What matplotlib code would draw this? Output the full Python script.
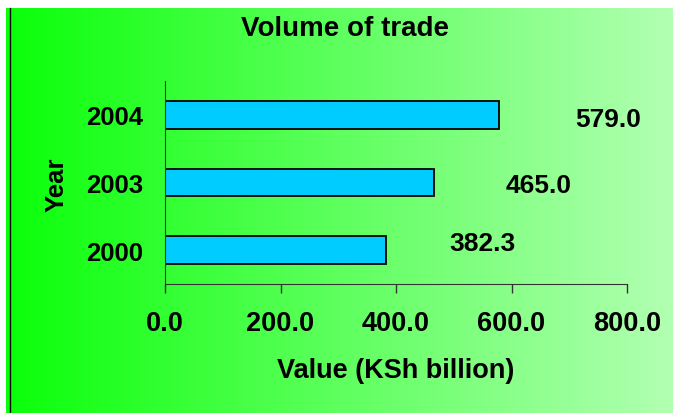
import numpy as np
import matplotlib.pyplot as plt
from matplotlib.lines import Line2D

years = ['2000', '2003', '2004']
values = [382.3, 465.0, 579.0]
value_labels = ['382.3', '465.0', '579.0']
xticks = [0, 200, 400, 600, 800]

# label offsets (pixels) from bar end, as placed in the original
label_offsets = [(64, 7), (72, -3), (76, -4)]

plt.rcParams['font.family'] = ['Liberation Sans', 'DejaVu Sans']
plt.rcParams['font.weight'] = 'bold'

W, H = 673, 414
fig = plt.figure(figsize=(W / 100, H / 100), dpi=100)
fig.patch.set_facecolor('white')

# gradient background of the chart area
bg = fig.add_axes([6 / W, 0, (W - 6) / W, (H - 9) / H])
t = np.linspace(0, 1, 256)
c0 = np.array([10, 255, 10]) / 255
c1 = np.array([178, 255, 178]) / 255
grad = c0[None, :] * (1 - t[:, None]) + c1[None, :] * t[:, None]
bg.imshow(grad[None, :, :], aspect='auto', extent=[0, 1, 0, 1])
bg.set_axis_off()
fig.add_artist(Line2D([9.5 / W, 9.5 / W], [0, (H - 9) / H], color='black', lw=1.0,
                      transform=fig.transFigure))

ax = fig.add_axes([165 / W, (H - 285) / H, 462 / W, 203 / H])
ax.patch.set_alpha(0)

y = np.arange(len(years))
ax.barh(y, values, height=0.41, color='#00CCFF', edgecolor='black', linewidth=1.3)

ax.set_xlim(0, 800)
ax.set_ylim(-0.5, len(years) - 0.5)
ax.set_xticks(xticks)
ax.set_xticklabels([f'{v:.1f}' for v in xticks], fontsize=19.5, fontweight='bold')
ax.set_yticks(y)
ax.set_yticklabels(years, fontsize=18.5, fontweight='bold')

ax.spines['top'].set_visible(False)
ax.spines['right'].set_visible(False)
ax.spines['left'].set_color('#333333')
ax.spines['bottom'].set_color('#333333')
ax.tick_params(axis='x', direction='out', length=6.5, width=1, color='#333333', pad=12)
ax.tick_params(axis='y', length=0, pad=16)

for yi, v, lab, (dx, dy) in zip(y, values, value_labels, label_offsets):
    ax.annotate(lab, xy=(v, yi), xytext=(dx, dy), textcoords='offset pixels',
                ha='left', va='center', fontsize=19, fontweight='bold')

ax.set_xlabel('Value (KSh billion)', fontsize=19.5, fontweight='bold')
ax.xaxis.set_label_coords(0.5, (285 - 358) / 203)
ax.set_ylabel('Year', fontsize=18.5, fontweight='bold')
ax.yaxis.set_label_coords((69 - 165) / 462, (285 - 185) / 203)

fig.text(345 / W, 1 - 29 / H, 'Volume of trade', ha='center', va='center',
         fontsize=20, fontweight='bold')

fig.savefig('out.png', dpi=100)
